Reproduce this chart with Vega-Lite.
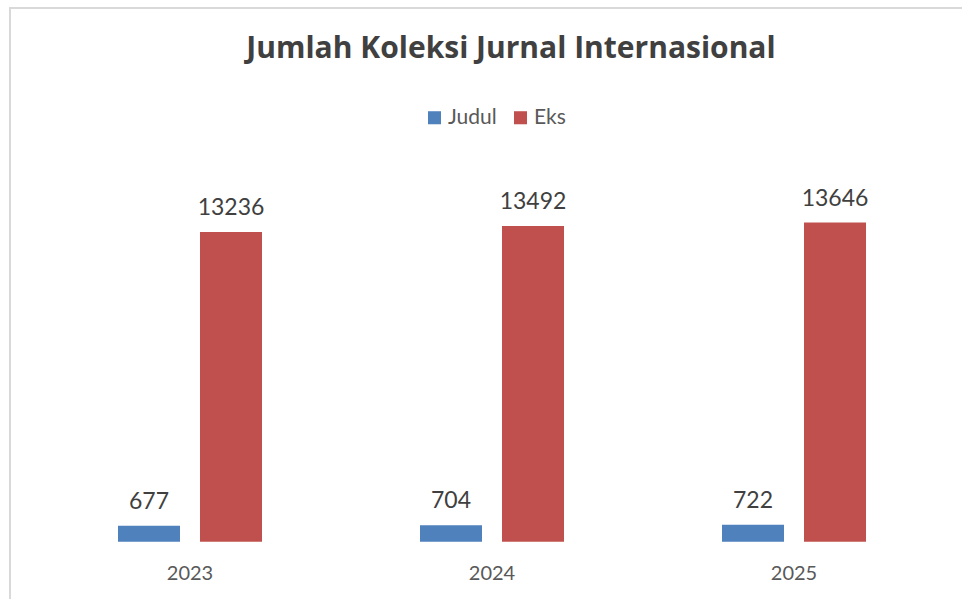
{
  "$schema": "https://vega.github.io/schema/vega-lite/v6.json",
  "width": 964,
  "height": 620,
  "autosize": {"type": "none"},
  "padding": {"left": 10, "top": 8, "right": 0, "bottom": 0},
  "background": "white",
  "config": {"view": {"stroke": "#d9d9d9", "strokeWidth": 2}},
  "title": {
    "text": "Jumlah Koleksi Jurnal Internasional",
    "anchor": "middle",
    "frame": "group",
    "offset": -80,
    "baseline": "alphabetic",
    "dx": 19,
    "font": "Open Sans",
    "fontSize": 30,
    "fontWeight": "bold",
    "color": "#404040"
  },
  "data": {
    "values": [
      {"tahun": "2023", "seri": "Judul", "jumlah": 677},
      {"tahun": "2023", "seri": "Eks", "jumlah": 13236},
      {"tahun": "2024", "seri": "Judul", "jumlah": 704},
      {"tahun": "2024", "seri": "Eks", "jumlah": 13492},
      {"tahun": "2025", "seri": "Judul", "jumlah": 722},
      {"tahun": "2025", "seri": "Eks", "jumlah": 13646}
    ]
  },
  "encoding": {
    "x": {
      "field": "tahun",
      "type": "nominal",
      "scale": {"paddingInner": 0, "paddingOuter": 0.096},
      "axis": {
        "title": null,
        "domain": false,
        "ticks": false,
        "tickSize": 0,
        "grid": false,
        "labelPadding": 0,
        "labelBaseline": "alphabetic",
        "labelAngle": 0,
        "offset": -49,
        "labelFont": "Lato",
        "labelFontSize": 20,
        "labelColor": "#595959"
      }
    },
    "y": {
      "field": "jumlah",
      "type": "quantitative",
      "scale": {"domain": [-3690, 22817], "nice": false, "zero": false},
      "axis": null
    }
  },
  "layer": [
    {
      "data": {"values": [{"tahun": "2023"}, {"tahun": "2024"}, {"tahun": "2025"}]},
      "mark": {"type": "rect", "fill": "transparent", "stroke": "#d9d9d9", "strokeWidth": 1.5},
      "encoding": {
        "y": {"datum": 0, "type": "quantitative"},
        "y2": {"datum": 0}
      }
    },
    {
      "mark": {"type": "bar"},
      "encoding": {
        "xOffset": {
          "field": "seri",
          "type": "nominal",
          "sort": ["Judul", "Eks"],
          "scale": {"paddingInner": 0.2439, "paddingOuter": 0.9634}
        },
        "y2": {"datum": 0},
        "color": {
          "field": "seri",
          "type": "nominal",
          "sort": ["Judul", "Eks"],
          "scale": {"domain": ["Judul", "Eks"], "range": ["#4f81bd", "#c0504d"]},
          "legend": {
            "title": null,
            "orient": "none",
            "direction": "horizontal",
            "legendX": 414,
            "legendY": 99,
            "symbolType": "square",
            "symbolSize": 170,
            "symbolStrokeWidth": 0,
            "labelFont": "Lato",
            "labelFontSize": 21,
            "labelColor": "#595959",
            "labelOffset": 3,
            "columnPadding": 13
          }
        }
      }
    },
    {
      "mark": {
        "type": "text",
        "dy": -17,
        "baseline": "alphabetic",
        "font": "Lato",
        "fontSize": 23,
        "color": "#404040"
      },
      "encoding": {
        "xOffset": {"field": "seri", "type": "nominal", "sort": ["Judul", "Eks"]},
        "text": {"field": "jumlah", "type": "quantitative", "format": "d"}
      }
    }
  ]
}
